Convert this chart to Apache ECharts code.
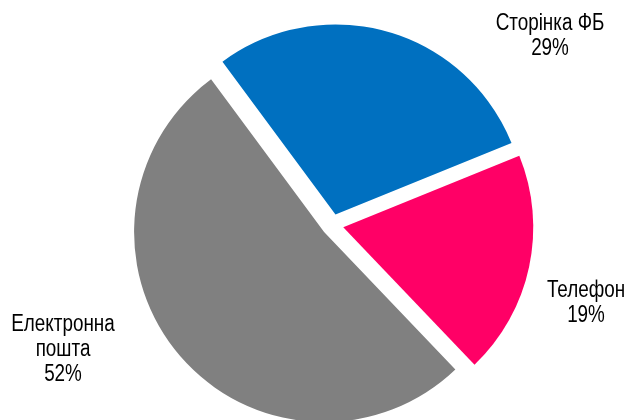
<!DOCTYPE html>
<html>
<head>
<meta charset="utf-8">
<script src="https://cdn.jsdelivr.net/npm/echarts@6/dist/echarts.min.js"></script>
<style>
  html, body { margin: 0; padding: 0; background: #ffffff; }
  #chart { width: 630px; height: 420px; }
</style>
</head>
<body>
<div id="chart"></div>
<script>
// Data
const categories = ['Сторінка ФБ', 'Телефон', 'Електронна\nпошта'];
const values = [29, 19, 52];
const colors = ['#0070C0', '#FF0066', '#808080'];

// Label anchor positions (layout only)
const labelPos = [[550, 36], [586, 303], [63, 350]];

const total = values.reduce(function (a, b) { return a + b; }, 0);

const chart = echarts.init(document.getElementById('chart'), null, { renderer: 'canvas' });

chart.setOption({
  animation: false,
  backgroundColor: '#ffffff',
  series: [{
    type: 'pie',
    center: [332.5, 225],
    radius: 190,
    startAngle: 126.5,
    clockwise: true,
    selectedMode: 'multiple',
    selectedOffset: 11,
    label: { show: false },
    labelLine: { show: false },
    emphasis: { disabled: true },
    itemStyle: { borderWidth: 0 },
    data: categories.map(function (c, i) {
      return { name: c, value: values[i], selected: true, itemStyle: { color: colors[i] } };
    })
  }],
  graphic: categories.map(function (c, i) {
    return {
      type: 'text',
      x: labelPos[i][0],
      y: labelPos[i][1],
      scaleX: 0.82,
      silent: true,
      style: {
        text: c + '\n' + Math.round(values[i] / total * 100) + '%',
        fontFamily: '"Liberation Sans", Arial, sans-serif',
        fontSize: 23,
        lineHeight: 25,
        fill: '#000000',
        align: 'center',
        verticalAlign: 'middle'
      }
    };
  })
});
</script>
</body>
</html>
